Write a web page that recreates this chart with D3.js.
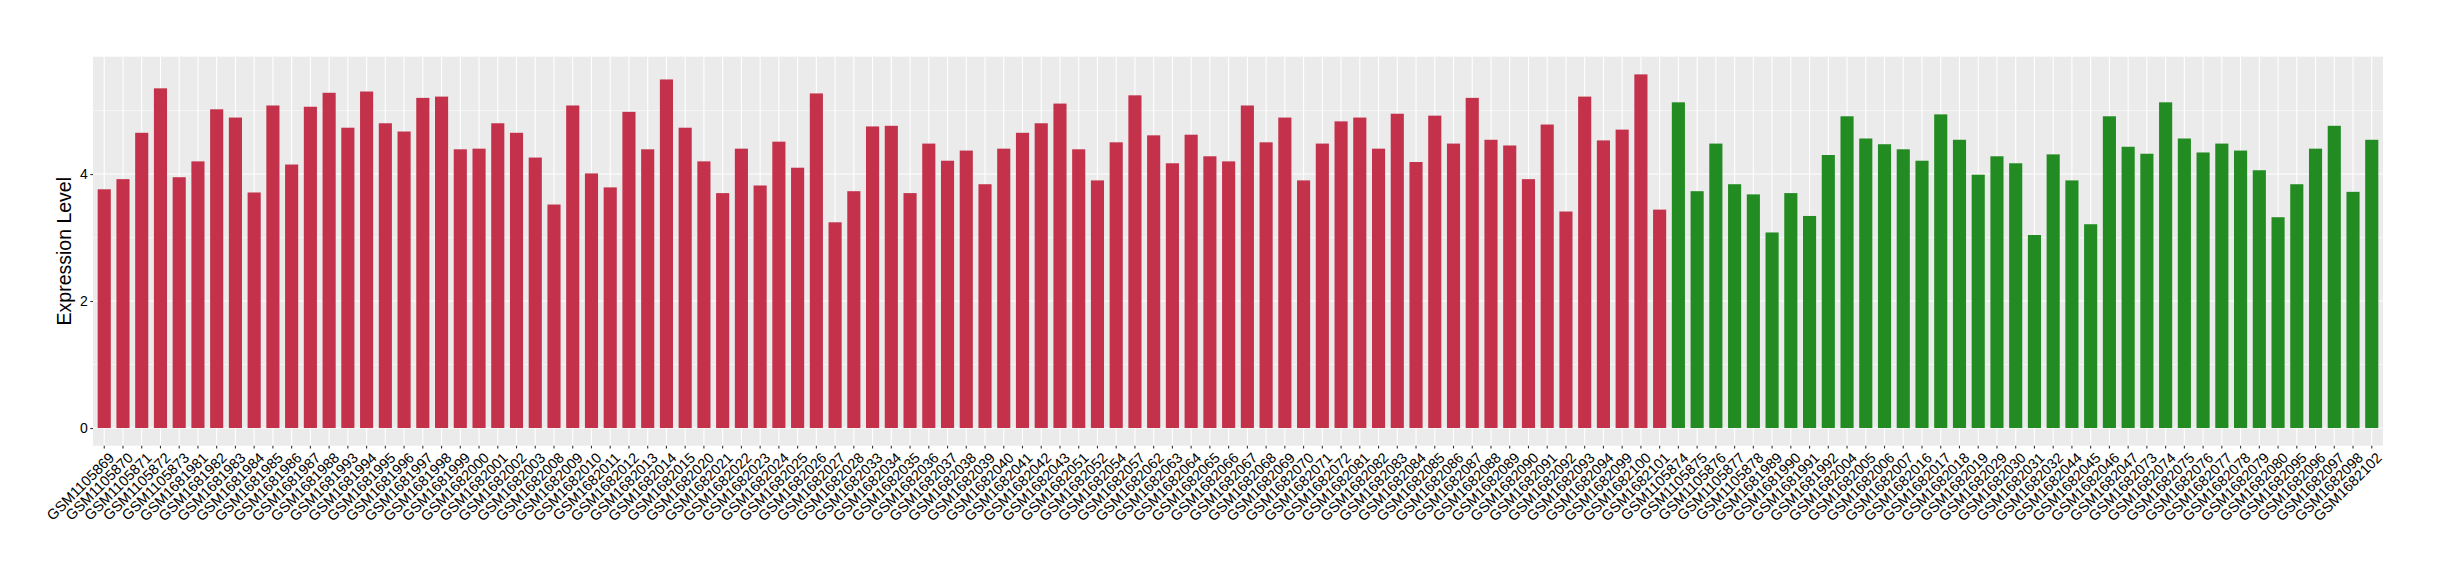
<!DOCTYPE html>
<html>
<head>
<meta charset="utf-8">
<script src="https://cdn.jsdelivr.net/npm/d3@7"></script>
<style>
  html, body { margin: 0; padding: 0; background: #ffffff; }
  svg { display: block; }
</style>
</head>
<body>
<svg id="chart" width="2440" height="580"></svg>
<script>
// ---- data ----
const groupAsamples = [
  "GSM1105869","GSM1105870","GSM1105871","GSM1105872","GSM1105873",
  "GSM1681981","GSM1681982","GSM1681983","GSM1681984","GSM1681985",
  "GSM1681986","GSM1681987","GSM1681988","GSM1681993","GSM1681994",
  "GSM1681995","GSM1681996","GSM1681997","GSM1681998","GSM1681999",
  "GSM1682000","GSM1682001","GSM1682002","GSM1682003","GSM1682008",
  "GSM1682009","GSM1682010","GSM1682011","GSM1682012","GSM1682013",
  "GSM1682014","GSM1682015","GSM1682020","GSM1682021","GSM1682022",
  "GSM1682023","GSM1682024","GSM1682025","GSM1682026","GSM1682027",
  "GSM1682028","GSM1682033","GSM1682034","GSM1682035","GSM1682036",
  "GSM1682037","GSM1682038","GSM1682039","GSM1682040","GSM1682041",
  "GSM1682042","GSM1682043","GSM1682051","GSM1682052","GSM1682054",
  "GSM1682057","GSM1682062","GSM1682063","GSM1682064","GSM1682065",
  "GSM1682066","GSM1682067","GSM1682068","GSM1682069","GSM1682070",
  "GSM1682071","GSM1682072","GSM1682081","GSM1682082","GSM1682083",
  "GSM1682084","GSM1682085","GSM1682086","GSM1682087","GSM1682088",
  "GSM1682089","GSM1682090","GSM1682091","GSM1682092","GSM1682093",
  "GSM1682094","GSM1682099","GSM1682100","GSM1682101"
];
const groupAvalues = [
  3.76,3.92,4.65,5.35,3.95, 4.20,5.02,4.89,3.71,5.08,
  4.15,5.06,5.28,4.73,5.30, 4.80,4.67,5.20,5.22,4.39,
  4.40,4.80,4.65,4.26,3.52, 5.08,4.01,3.79,4.98,4.39,
  5.49,4.73,4.20,3.70,4.40, 3.82,4.51,4.10,5.27,3.24,
  3.73,4.75,4.76,3.70,4.48, 4.21,4.37,3.84,4.40,4.65,
  4.80,5.11,4.39,3.90,4.50, 5.24,4.61,4.17,4.62,4.28,
  4.20,5.08,4.50,4.89,3.90, 4.48,4.83,4.89,4.40,4.95,
  4.19,4.92,4.48,5.20,4.54, 4.45,3.92,4.78,3.41,5.22,
  4.53,4.70,5.57,3.44
];
const groupBsamples = [
  "GSM1105874","GSM1105875","GSM1105876","GSM1105877","GSM1105878",
  "GSM1681989","GSM1681990","GSM1681991","GSM1681992","GSM1682004",
  "GSM1682005","GSM1682006","GSM1682007","GSM1682016","GSM1682017",
  "GSM1682018","GSM1682019","GSM1682029","GSM1682030","GSM1682031",
  "GSM1682032","GSM1682044","GSM1682045","GSM1682046","GSM1682047",
  "GSM1682073","GSM1682074","GSM1682075","GSM1682076","GSM1682077",
  "GSM1682078","GSM1682079","GSM1682080","GSM1682095","GSM1682096",
  "GSM1682097","GSM1682098","GSM1682102"
];
const groupBvalues = [
  5.13,3.73,4.48,3.84,3.68, 3.08,3.70,3.34,4.30,4.91,
  4.56,4.47,4.39,4.21,4.94, 4.54,3.99,4.28,4.17,3.04,
  4.31,3.90,3.21,4.91,4.43, 4.32,5.13,4.56,4.34,4.48,
  4.37,4.06,3.32,3.84,4.40, 4.76,3.72,4.54
];
const groupColors = ["#C3314A", "#228B22"];
const yTicks = [0, 2, 4];
const yMinor = [1, 3, 5];
const yTitle = "Expression Level";

// ---- build ----
const rows = groupAsamples.map((s, i) => ({ s, v: groupAvalues[i], g: 0 }))
  .concat(groupBsamples.map((s, i) => ({ s, v: groupBvalues[i], g: 1 })));

const svg = d3.select("#chart");
const panel = { left: 93, right: 2383, top: 56.7, bottom: 445.7 };

const x = d3.scaleBand()
  .domain(rows.map(d => d.s))
  .range([panel.left, panel.right])
  .paddingInner(0.3)
  .paddingOuter(0.25);

const vmax = d3.max(rows, d => d.v);
const y = d3.scaleLinear()
  .domain([-0.05 * vmax, vmax * 1.05])
  .range([panel.bottom, panel.top]);

// panel background
svg.append("rect")
  .attr("x", panel.left).attr("y", panel.top)
  .attr("width", panel.right - panel.left)
  .attr("height", panel.bottom - panel.top)
  .attr("fill", "#EBEBEB");

// minor horizontal grid
svg.append("g").selectAll("line").data(yMinor.filter(t => y(t) >= panel.top)).join("line")
  .attr("x1", panel.left).attr("x2", panel.right)
  .attr("y1", d => y(d)).attr("y2", d => y(d))
  .attr("stroke", "#ffffff").attr("stroke-width", 0.55);

// major horizontal grid
svg.append("g").selectAll("line").data(yTicks).join("line")
  .attr("x1", panel.left).attr("x2", panel.right)
  .attr("y1", d => y(d)).attr("y2", d => y(d))
  .attr("stroke", "#ffffff").attr("stroke-width", 1.1);

// major vertical grid
svg.append("g").selectAll("line").data(rows).join("line")
  .attr("x1", d => x(d.s) + x.bandwidth() / 2)
  .attr("x2", d => x(d.s) + x.bandwidth() / 2)
  .attr("y1", panel.top).attr("y2", panel.bottom)
  .attr("stroke", "#ffffff").attr("stroke-width", 1.1);

// bars
svg.append("g").selectAll("rect").data(rows).join("rect")
  .attr("x", d => x(d.s))
  .attr("width", x.bandwidth())
  .attr("y", d => y(d.v))
  .attr("height", d => y(0) - y(d.v))
  .attr("fill", d => groupColors[d.g]);

// y axis
const yAxis = d3.axisLeft(y).tickValues(yTicks).tickSize(2.7).tickPadding(2.5).tickFormat(d3.format("d"));
const gy = svg.append("g").attr("transform", `translate(${panel.left},0)`).call(yAxis);
gy.select(".domain").remove();
gy.selectAll(".tick line").attr("stroke", "#333333").attr("stroke-width", 1.1);
gy.selectAll(".tick text")
  .attr("fill", "#000000")
  .style("font-family", "'Liberation Sans', Arial, sans-serif")
  .style("font-size", "14px");

// x axis
const xAxis = d3.axisBottom(x).tickSize(2.7).tickPadding(0);
const gx = svg.append("g").attr("transform", `translate(0,${panel.bottom})`).call(xAxis);
gx.select(".domain").remove();
gx.selectAll(".tick line").attr("stroke", "#333333").attr("stroke-width", 1.1);
gx.selectAll(".tick text")
  .attr("fill", "#000000")
  .style("font-family", "'Liberation Sans', Arial, sans-serif")
  .style("font-size", "14.5px")
  .attr("text-anchor", "end")
  .attr("dy", null)
  .attr("y", 0)
  .attr("transform", "translate(11,13) rotate(-45)");

// y title
svg.append("text")
  .attr("transform", `translate(71,${(panel.top + panel.bottom) / 2}) rotate(-90)`)
  .attr("text-anchor", "middle")
  .style("font-family", "'Liberation Sans', Arial, sans-serif")
  .style("font-size", "19.5px")
  .attr("fill", "#000000")
  .text(yTitle);
</script>
</body>
</html>
